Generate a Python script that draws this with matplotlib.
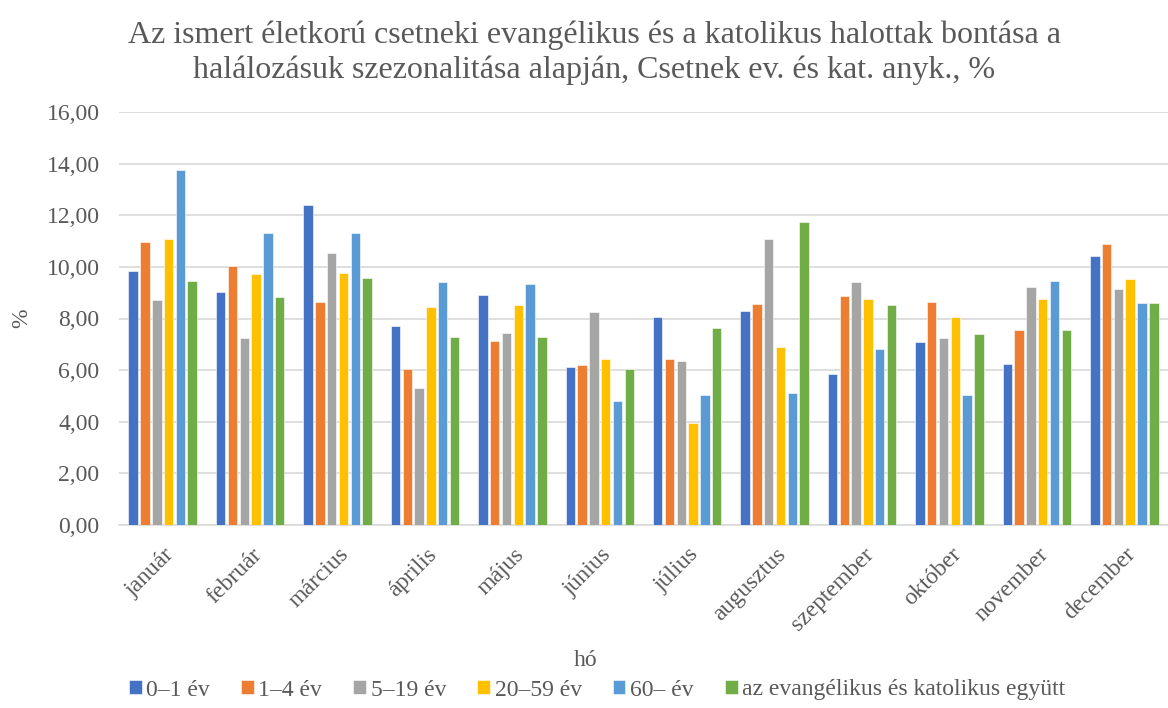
import numpy as np
import matplotlib
matplotlib.use("Agg")
from matplotlib import pyplot as plt

plt.rcParams['font.family'] = ['Liberation Serif', 'DejaVu Serif']

months = ["január", "február", "március", "április", "május", "június",
          "július", "augusztus", "szeptember", "október", "november", "december"]
series_names = ["0–1 év", "1–4 év", "5–19 év", "20–59 év", "60– év",
                "az evangélikus és katolikus együtt"]
colors = ["#4472C4", "#ED7D31", "#A5A5A5", "#FFC000", "#5B9BD5", "#70AD47"]

age_0_1 = [9.83, 9.03, 12.39, 7.70, 8.90, 6.14, 8.05, 8.30, 5.86, 7.10, 6.25, 10.41]
age_1_4 = [10.95, 10.05, 8.65, 6.04, 7.12, 6.19, 6.45, 8.57, 8.88, 8.65, 7.57, 10.89]
age_5_19 = [8.71, 7.25, 10.54, 5.32, 7.45, 8.26, 6.35, 11.07, 9.42, 7.25, 9.21, 9.16]
age_20_59 = [11.08, 9.74, 9.78, 8.44, 8.54, 6.44, 3.97, 6.89, 8.75, 8.06, 8.76, 9.54]
age_60 = [13.75, 11.32, 11.32, 9.42, 9.35, 4.79, 5.02, 5.10, 6.83, 5.05, 9.46, 8.59]
together = [9.45, 8.83, 9.56, 7.28, 7.28, 6.03, 7.63, 11.74, 8.53, 7.41, 7.56, 8.61]

data = [age_0_1, age_1_4, age_5_19, age_20_59, age_60, together]
txt = "#595959"

fig = plt.figure(figsize=(11.68, 7.08), dpi=100)
ax = fig.add_axes([119 / 1168, 1 - 525 / 708, 1049 / 1168, 413 / 708])

x = np.arange(len(months))
pitch = 0.135
width = 0.108
for i, (vals, name, c) in enumerate(zip(data, series_names, colors)):
    ax.bar(x + (i - 2.5) * pitch, vals, width, color=c, label=name,
           edgecolor="white", linewidth=0.4, zorder=3)

ax.set_xlim(-0.5, 11.5)
ax.set_ylim(0, 16)
ax.set_yticks(np.arange(0, 17, 2))
ax.set_yticklabels([f"{v:.2f}".replace(".", ",") for v in np.arange(0, 17, 2)],
                   fontsize=17, color=txt)
ax.set_xticks(x)
ax.set_xticklabels([])
# month labels placed by hand so they sit slightly right of the tick
for xi, m in zip(x, months):
    ax.annotate(m, xy=(xi, 0), xycoords=ax.get_xaxis_transform(),
                xytext=(6, -19), textcoords="offset points",
                rotation=45, ha="right", va="center", rotation_mode="anchor",
                fontsize=17, color=txt)
ax.tick_params(axis="y", length=0, pad=14)
ax.tick_params(axis="x", length=0)
ax.grid(axis="y", color="#d9d9d9", linewidth=1.2, zorder=0)
for s in ["top", "right", "left"]:
    ax.spines[s].set_visible(False)
ax.spines["bottom"].set_color("#d9d9d9")
ax.spines["bottom"].set_linewidth(1.2)

fig.text(22 / 1168, 1 - 318 / 708, "%", fontsize=17, color=txt,
         rotation=90, ha="center", va="center")
fig.text(586 / 1168, 1 - 661 / 708, "hó", fontsize=17, color=txt,
         ha="center", va="center")
fig.text(594 / 1168, 1 - 53 / 708,
         "Az ismert életkorú csetneki evangélikus és a katolikus halottak bontása a\n"
         "halálozásuk szezonalitása alapján, Csetnek ev. és kat. anyk., %",
         fontsize=23, color=txt, ha="center", va="center", linespacing=1.25)

fig.legend(loc="center", bbox_to_anchor=(597 / 1168, 1 - 690 / 708), ncol=6,
           frameon=False, fontsize=17, handlelength=0.55, handleheight=0.55,
           handletextpad=0.2, columnspacing=1.3, labelcolor=txt)

fig.savefig("out.png", dpi=100)
